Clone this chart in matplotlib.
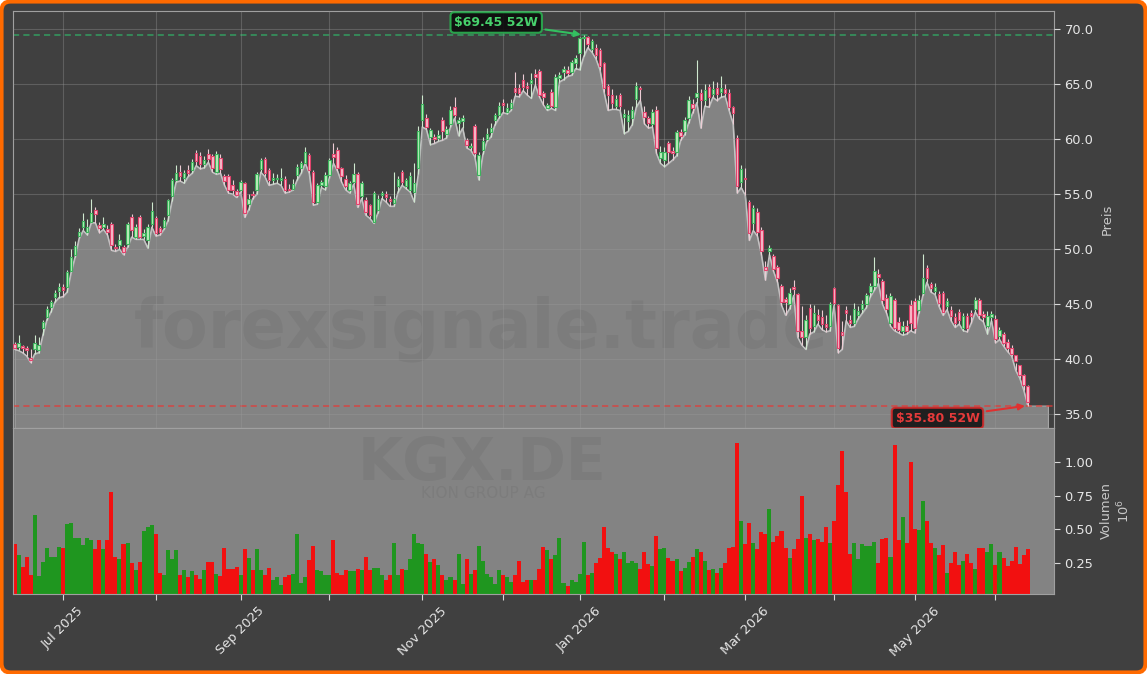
"""
KGX.DE (KION GROUP AG) - 52 week candlestick chart with volume panel.
"""
import matplotlib
matplotlib.use("Agg")
import matplotlib.pyplot as plt
import numpy as np
import pandas as pd
from matplotlib.patches import FancyBboxPatch

TICKER = "KGX.DE"
COMPANY = "KION GROUP AG"
WATERMARK = "forexsignale.trade"

# trading days (Xetra) from 2025-06-13 to 2026-06-11
START, END = "2025-06-13", "2026-06-11"
HOLIDAYS = ["2025-12-24", "2025-12-25", "2025-12-26", "2025-12-31",
            "2026-01-01", "2026-04-03", "2026-04-06", "2026-05-01"]

opens = [
    41.4, 41.1, 41.2, 41.0, 40.1, 40.9, 40.85, 42.8, 43.85, 44.75,
    45.65, 46.2, 46.6, 46.6, 48.0, 49.5, 51.2, 52.0, 51.6, 52.5,
    53.6, 52.2, 52.0, 51.8, 52.25, 50.2, 50.4, 50.2, 50.5, 52.9,
    51.1, 52.95, 51.2, 50.8, 52.3, 52.8, 51.9, 52.0, 53.1, 54.8,
    56.3, 57.0, 56.5, 57.2, 57.2, 58.7, 58.5, 57.7, 58.6, 58.45,
    57.0, 58.25, 56.6, 56.65, 55.8, 55.3, 55.4, 56.0, 54.1, 55.0,
    55.4, 57.3, 58.2, 57.2, 56.3, 56.4, 56.3, 56.4, 55.5, 55.5,
    56.7, 57.35, 57.8, 58.55, 57.05, 54.3, 55.8, 55.7, 56.75, 58.6,
    59.0, 57.35, 56.4, 55.4, 56.1, 56.8, 54.8, 54.5, 54.0, 52.5,
    53.55, 54.9, 55.0, 54.6, 54.2, 55.7, 57.0, 55.7, 55.4, 55.2,
    57.35, 61.7, 61.9, 60.2, 60.2, 60.1, 61.7, 60.5, 61.4, 62.9,
    61.5, 61.6, 59.9, 59.3, 61.2, 56.75, 59.0, 60.0, 60.6, 61.7,
    62.2, 63.3, 62.5, 62.8, 64.6, 64.6, 65.35, 64.8, 65.1, 65.9,
    66.2, 64.2, 62.8, 64.3, 62.9, 65.5, 66.1, 66.3, 66.1, 66.9,
    67.8, 69.2, 69.3, 68.2, 68.3, 68.1, 66.9, 64.8, 64.0, 63.0,
    64.0, 62.0, 61.6, 61.9, 63.6, 64.6, 62.5, 61.9, 61.4, 62.65,
    58.25, 58.1, 59.6, 58.9, 58.85, 60.6, 60.7, 61.9, 63.2, 63.8,
    64.15, 63.55, 64.7, 64.1, 64.6, 64.3, 64.5, 64.2, 62.9, 60.1,
    56.1, 56.5, 54.3, 52.35, 53.4, 51.75, 48.4, 49.8, 49.4, 48.4,
    46.65, 45.5, 45.0, 46.6, 45.9, 42.6, 42.0, 44.7, 43.0, 44.0,
    43.8, 43.2, 43.0, 46.5, 44.9, 42.5, 44.5, 43.6, 43.3, 44.0,
    44.6, 45.0, 46.1, 46.65, 47.7, 47.1, 45.6, 43.3, 45.4, 43.4,
    42.6, 43.0, 44.9, 45.3, 44.5, 46.0, 48.3, 46.8, 46.2, 45.9,
    46.0, 44.8, 44.5, 43.8, 44.3, 42.8, 43.9, 44.2, 44.6, 45.4,
    44.1, 43.0, 43.8, 43.7, 42.1, 42.3, 41.6, 41.0, 40.4, 39.5,
    38.6, 37.6,
]
highs = [
    41.6, 42.2, 41.3, 41.2, 40.9, 42.2, 42.0, 43.6, 44.8, 45.4,
    46.3, 46.9, 46.8, 48.1, 50.0, 50.7, 51.9, 53.3, 52.7, 54.6,
    53.8, 52.5, 52.9, 52.2, 52.5, 50.5, 51.4, 50.4, 52.5, 53.2,
    52.3, 53.1, 51.8, 52.3, 54.3, 53.0, 52.1, 52.9, 54.6, 56.5,
    57.6, 57.6, 57.2, 57.6, 58.2, 59.0, 58.8, 58.5, 59.1, 58.6,
    58.9, 58.6, 56.8, 56.8, 56.3, 55.5, 56.3, 56.1, 55.0, 55.3,
    57.0, 58.3, 58.4, 57.4, 56.9, 56.8, 57.4, 56.6, 55.9, 56.4,
    57.7, 58.0, 59.3, 58.7, 57.2, 56.0, 56.3, 57.0, 58.3, 59.6,
    59.3, 57.5, 56.7, 56.2, 57.8, 57.0, 56.2, 54.7, 54.1, 55.3,
    54.9, 55.3, 55.3, 54.8, 57.0, 56.6, 57.2, 56.5, 57.0, 57.8,
    61.2, 64.0, 62.3, 61.0, 60.5, 60.8, 62.0, 61.2, 63.0, 63.85,
    62.0, 62.2, 60.1, 59.6, 61.4, 58.8, 60.2, 61.0, 61.5, 62.4,
    63.4, 63.6, 63.3, 63.6, 66.1, 65.0, 65.9, 65.2, 66.0, 66.4,
    66.4, 64.4, 63.3, 64.5, 65.9, 66.1, 66.6, 66.6, 67.2, 67.6,
    69.3, 69.45, 69.4, 69.1, 68.6, 68.3, 67.0, 65.0, 64.5, 64.0,
    64.2, 62.7, 62.6, 63.0, 65.2, 64.8, 63.0, 62.1, 62.7, 63.0,
    59.4, 59.3, 59.8, 59.3, 60.8, 60.9, 62.0, 63.9, 63.6, 67.2,
    64.5, 65.0, 65.0, 65.3, 65.2, 65.7, 65.0, 64.5, 63.0, 60.4,
    57.6, 57.4, 54.5, 54.0, 53.7, 52.0, 48.9, 50.4, 49.6, 48.6,
    46.8, 45.7, 46.5, 47.2, 46.0, 44.8, 44.0, 45.0, 44.9, 44.6,
    44.5, 44.0, 45.2, 46.6, 45.0, 43.5, 44.8, 44.0, 45.1, 44.8,
    45.4, 46.0, 46.9, 49.3, 48.2, 47.3, 45.9, 46.0, 45.6, 43.8,
    43.5, 43.6, 45.4, 45.6, 45.8, 49.6, 48.6, 47.0, 46.9, 46.2,
    46.2, 45.6, 44.8, 44.2, 44.6, 44.2, 44.2, 44.5, 45.7, 45.6,
    44.4, 44.4, 44.4, 44.0, 42.9, 42.5, 41.8, 41.3, 39.7, 39.2,
    38.7, 37.7,
]
lows = [
    40.9, 40.8, 40.6, 40.3, 39.7, 40.5, 40.6, 42.2, 43.6, 44.3,
    45.2, 45.6, 45.7, 46.1, 47.9, 49.3, 51.0, 51.7, 51.3, 52.4,
    52.4, 51.5, 51.8, 51.3, 49.9, 49.8, 50.0, 49.5, 50.2, 51.1,
    50.9, 50.9, 50.9, 50.1, 52.0, 51.2, 51.3, 51.8, 52.6, 54.4,
    56.1, 56.2, 56.0, 56.6, 56.9, 57.6, 57.3, 57.4, 57.9, 57.0,
    56.8, 56.9, 55.8, 55.1, 55.0, 54.7, 55.2, 52.9, 53.6, 54.6,
    55.0, 57.0, 56.6, 55.8, 55.9, 56.0, 55.8, 55.1, 55.2, 55.4,
    56.3, 56.9, 57.8, 56.9, 54.0, 54.1, 55.6, 55.4, 56.5, 57.8,
    57.1, 56.1, 55.4, 55.1, 55.9, 53.8, 54.6, 53.1, 52.8, 52.35,
    53.3, 54.6, 54.3, 53.9, 53.9, 55.2, 55.8, 55.5, 55.2, 54.3,
    56.8, 61.1, 60.9, 59.5, 59.6, 59.8, 59.9, 60.1, 61.1, 61.9,
    60.3, 61.0, 59.2, 59.0, 58.4, 56.3, 58.6, 59.8, 60.2, 61.3,
    61.9, 62.4, 62.3, 62.6, 63.9, 63.85, 64.4, 64.0, 63.7, 64.9,
    63.85, 63.1, 62.6, 62.8, 62.6, 65.2, 65.4, 65.7, 65.8, 66.4,
    66.3, 67.5, 68.3, 67.9, 67.3, 66.3, 64.3, 62.6, 62.7, 62.7,
    62.6, 60.5, 60.7, 61.3, 62.9, 63.5, 61.4, 61.0, 61.1, 58.7,
    57.8, 57.5, 57.8, 58.1, 58.5, 59.9, 60.4, 61.5, 62.4, 63.3,
    61.0, 63.0, 62.9, 63.8, 63.5, 63.8, 63.9, 62.6, 61.4, 55.1,
    55.6, 54.9, 50.8, 51.7, 51.2, 49.5, 47.2, 49.5, 48.0, 47.0,
    44.9, 44.0, 44.6, 45.8, 42.0, 41.3, 40.9, 42.3, 42.5, 43.2,
    42.7, 42.5, 42.6, 44.9, 40.6, 40.9, 43.5, 42.9, 43.0, 43.7,
    44.2, 44.7, 45.7, 46.3, 46.9, 45.0, 44.2, 43.0, 42.6, 42.4,
    42.2, 42.3, 42.6, 42.4, 44.2, 45.8, 47.0, 46.1, 45.9, 44.8,
    44.0, 44.5, 43.5, 42.9, 43.2, 42.6, 42.5, 43.3, 44.3, 43.7,
    43.4, 42.3, 43.5, 41.5, 41.8, 41.2, 40.7, 40.3, 39.0, 38.3,
    37.2, 35.8,
]
closes = [
    41.0, 41.5, 41.0, 40.8, 39.95, 41.45, 41.3, 43.4, 44.55, 45.2,
    46.0, 46.6, 46.25, 47.9, 49.3, 50.3, 51.6, 52.6, 52.0, 53.3,
    53.2, 51.9, 52.3, 51.55, 50.4, 50.1, 50.8, 49.7, 52.3, 51.7,
    52.0, 51.1, 51.5, 52.0, 53.5, 51.45, 51.6, 52.65, 54.5, 56.3,
    56.9, 56.6, 56.9, 56.9, 57.9, 58.0, 57.7, 58.1, 58.2, 57.35,
    58.65, 57.25, 56.2, 55.4, 55.4, 54.9, 56.1, 53.25, 54.6, 54.9,
    56.8, 58.1, 56.9, 56.3, 56.5, 56.5, 56.5, 55.4, 55.4, 55.9,
    57.5, 57.85, 58.85, 57.2, 54.3, 55.8, 56.1, 56.75, 58.1, 58.4,
    57.35, 56.6, 55.7, 56.0, 56.8, 54.1, 56.0, 53.4, 53.1, 55.1,
    54.6, 55.1, 54.7, 54.4, 54.6, 56.4, 56.1, 56.3, 56.6, 56.0,
    60.7, 63.2, 61.1, 60.8, 60.0, 60.4, 60.7, 60.9, 62.65, 62.2,
    61.7, 61.9, 59.5, 59.4, 58.7, 58.55, 59.8, 60.5, 61.0, 62.2,
    63.0, 63.1, 62.8, 63.3, 64.3, 64.2, 64.7, 64.65, 65.4, 65.65,
    64.0, 63.85, 63.1, 63.0, 65.6, 65.8, 66.4, 66.0, 67.0, 67.4,
    69.15, 69.3, 68.6, 68.9, 67.6, 66.6, 64.6, 64.0, 63.25, 63.6,
    63.0, 62.3, 62.2, 62.65, 64.8, 64.5, 62.0, 61.5, 62.5, 59.2,
    58.85, 58.85, 58.85, 58.7, 60.6, 60.25, 61.75, 63.55, 62.8, 64.2,
    63.55, 64.45, 63.8, 64.5, 64.1, 64.6, 64.2, 62.9, 62.35, 55.7,
    57.25, 56.4, 51.45, 53.7, 51.6, 49.8, 48.1, 50.1, 48.2, 47.4,
    45.2, 45.2, 46.0, 46.35, 42.6, 42.0, 43.6, 42.8, 44.2, 43.6,
    43.2, 42.9, 45.0, 45.1, 41.0, 42.2, 44.2, 43.3, 44.6, 44.4,
    45.0, 45.8, 46.7, 48.0, 47.5, 45.4, 44.6, 45.75, 42.85, 42.7,
    43.0, 42.6, 43.3, 42.8, 45.4, 47.4, 47.4, 46.5, 46.6, 45.1,
    44.3, 45.3, 43.9, 43.3, 43.6, 43.9, 42.8, 43.9, 45.4, 44.0,
    43.8, 43.9, 44.1, 41.8, 42.7, 41.5, 41.0, 40.5, 39.8, 38.6,
    37.7, 36.1,
]
# volume in millions of shares
volumes = [
    0.39, 0.31, 0.225, 0.30, 0.16, 0.61, 0.155, 0.26, 0.36, 0.30,
    0.30, 0.37, 0.36, 0.54, 0.55, 0.435, 0.44, 0.385, 0.435, 0.42,
    0.355, 0.42, 0.355, 0.42, 0.774, 0.30, 0.28, 0.39, 0.40, 0.25,
    0.20, 0.26, 0.49, 0.52, 0.53, 0.47, 0.18, 0.16, 0.35, 0.28,
    0.35, 0.16, 0.20, 0.145, 0.19, 0.16, 0.135, 0.20, 0.26, 0.26,
    0.17, 0.155, 0.36, 0.21, 0.21, 0.225, 0.165, 0.355, 0.29, 0.20,
    0.355, 0.20, 0.165, 0.215, 0.13, 0.145, 0.09, 0.15, 0.165, 0.17,
    0.465, 0.105, 0.15, 0.275, 0.38, 0.20, 0.19, 0.16, 0.16, 0.42,
    0.18, 0.16, 0.20, 0.19, 0.19, 0.21, 0.20, 0.30, 0.20, 0.215,
    0.215, 0.16, 0.13, 0.165, 0.40, 0.16, 0.21, 0.20, 0.28, 0.465,
    0.40, 0.39, 0.32, 0.26, 0.28, 0.235, 0.16, 0.125, 0.145, 0.125,
    0.32, 0.095, 0.28, 0.17, 0.20, 0.38, 0.27, 0.17, 0.145, 0.095,
    0.20, 0.16, 0.145, 0.115, 0.165, 0.27, 0.115, 0.13, 0.125, 0.125,
    0.21, 0.37, 0.35, 0.28, 0.31, 0.44, 0.105, 0.08, 0.125, 0.115,
    0.17, 0.41, 0.165, 0.175, 0.25, 0.29, 0.52, 0.36, 0.33, 0.32,
    0.28, 0.335, 0.25, 0.27, 0.25, 0.21, 0.33, 0.245, 0.23, 0.455,
    0.355, 0.36, 0.29, 0.27, 0.28, 0.19, 0.215, 0.26, 0.30, 0.355,
    0.33, 0.27, 0.20, 0.21, 0.18, 0.215, 0.25, 0.36, 0.37, 1.136,
    0.56, 0.39, 0.545, 0.40, 0.355, 0.48, 0.47, 0.65, 0.41, 0.455,
    0.49, 0.365, 0.29, 0.355, 0.43, 0.745, 0.44, 0.465, 0.42, 0.43,
    0.41, 0.515, 0.40, 0.56, 0.83, 1.08, 0.78, 0.32, 0.40, 0.285,
    0.39, 0.38, 0.375, 0.41, 0.25, 0.43, 0.435, 0.30, 1.125, 0.42,
    0.59, 0.40, 1.00, 0.50, 0.495, 0.71, 0.56, 0.40, 0.365, 0.31,
    0.385, 0.175, 0.25, 0.335, 0.24, 0.27, 0.32, 0.25, 0.21, 0.365,
    0.365, 0.335, 0.39, 0.24, 0.33, 0.29, 0.23, 0.265, 0.37, 0.245,
    0.31, 0.355,
]

BG = "#404040"
PANEL = "#838383"
GRID = "#9a9a9a"
SPINE = "#a0a0a0"
TXT = "#e6e6e6"
LBL = "#c8c8c8"
FS = 9.4


def main():
    n = min(len(opens), len(highs), len(lows), len(closes), len(volumes))
    o = np.array(opens[:n])
    h = np.array(highs[:n])
    l = np.array(lows[:n])
    c = np.array(closes[:n])
    v = np.array(volumes[:n])
    x = np.arange(n)

    dates = pd.bdate_range(START, END)
    dates = dates[~dates.isin(pd.to_datetime(HOLIDAYS))][:n]

    hi_idx, lo_idx = int(np.argmax(h)), int(np.argmin(l))
    hi_val, lo_val = h[hi_idx], l[lo_idx]
    up = c >= o

    fig = plt.figure(figsize=(11.47, 6.74), dpi=100, facecolor="white")
    frame = FancyBboxPatch((0.0013, 0.0022), 0.9974, 0.9956,
                           boxstyle="round,pad=0,rounding_size=0.008",
                           mutation_aspect=1147 / 674,
                           transform=fig.transFigure, facecolor=BG,
                           edgecolor="#ff6a00", linewidth=3, zorder=-10)
    fig.add_artist(frame)

    ax = fig.add_axes([0.0109, 0.3650, 0.9080, 0.6187])
    axv = fig.add_axes([0.0109, 0.1187, 0.9080, 0.2463], sharex=ax)
    ax.set_facecolor(BG)
    axv.set_facecolor(PANEL)

    ax.set_xlim(-0.5, n + 5.5)
    ax.set_ylim(33.76, 71.63)
    ymin = ax.get_ylim()[0]

    # area under the daily lows
    ax.fill_between(np.append(x, n + 4), np.append(l, l[-1]), ymin,
                    facecolor=PANEL, edgecolor="#a8a8a8", linewidth=0.8, zorder=1)
    ax.plot(x, l, color="#c4c4c4", lw=1.0, zorder=2)

    # candles
    ax.vlines(x, l, h, colors=np.where(up, "#cfe8cf", "#ecccd4"),
              linewidth=0.8, zorder=3)
    body_lo = np.minimum(o, c)
    body_h = np.maximum(np.abs(c - o), 0.06)
    ax.bar(x, body_h, bottom=body_lo, width=0.62,
           color=np.where(up, "#bdeebd", "#f6bccb"),
           edgecolor=np.where(up, "#3cb35c", "#e2436c"),
           linewidth=0.8, zorder=4)

    # 52W high / low
    ax.axhline(hi_val, color="#2ecc71", lw=1.2, ls=(0, (3.7, 2.5)), alpha=0.6, zorder=2.5)
    ax.axhline(lo_val, color="#e53935", lw=1.2, ls=(0, (3.7, 2.5)), alpha=0.75, zorder=2.5)
    ax.annotate(f"${hi_val:.2f} 52W", xy=(hi_idx, hi_val), xytext=(-63, 9),
                textcoords="offset points", ha="center", va="center",
                color="#47d16c", fontsize=9, fontweight="bold", zorder=6,
                bbox=dict(boxstyle="round,pad=0.3", fc="#0b0b0b", ec="#2ab050", lw=1.5, alpha=0.9),
                arrowprops=dict(arrowstyle="-|>", color="#33c060", lw=1.5))
    ax.annotate(f"${lo_val:.2f} 52W", xy=(lo_idx, lo_val), xytext=(-65, -9),
                textcoords="offset points", ha="center", va="center",
                color="#e53a3a", fontsize=9, fontweight="bold", zorder=6,
                bbox=dict(boxstyle="round,pad=0.3", fc="#141414", ec="#d02828", lw=1.5, alpha=0.9),
                arrowprops=dict(arrowstyle="-|>", color="#e03030", lw=1.5))

    # watermarks
    ax.text(0.4198, 0.4837, WATERMARK, transform=fig.transFigure, ha="center",
            va="baseline", fontsize=48, fontweight="bold", color="#333333",
            alpha=0.085, zorder=1.5)
    axv.text(0.4202, 0.2875, TICKER, transform=fig.transFigure, ha="center",
             va="baseline", fontsize=42, fontweight="bold", color="#333333",
             alpha=0.085, zorder=1)
    axv.text(0.4211, 0.2605, COMPANY, transform=fig.transFigure, ha="center",
             va="baseline", fontsize=11, color="#333333", alpha=0.085, zorder=1)

    # volume
    axv.bar(x, v, width=1.0, color=np.where(up, "#1f961f", "#f21010"), zorder=2)
    axv.set_ylim(0.023, 1.25)

    # month ticks
    month_pos = [i for i in range(1, n) if dates[i].month != dates[i - 1].month]
    month_lbl = [dates[i].strftime("%b %Y") if dates[i].month % 2 == 1 else ""
                 for i in month_pos]
    ax.set_xticks(month_pos)
    axv.set_xticks(month_pos)
    axv.set_xticklabels(month_lbl, rotation=45, ha="center")

    ax.set_yticks(np.arange(35, 71, 5))
    ax.yaxis.set_major_formatter(matplotlib.ticker.FormatStrFormatter("%.1f"))
    axv.set_yticks([0.25, 0.5, 0.75, 1.0])
    axv.yaxis.set_major_formatter(matplotlib.ticker.FormatStrFormatter("%.2f"))

    for a in (ax, axv):
        a.yaxis.tick_right()
        a.yaxis.set_label_position("right")
        a.tick_params(colors="#d8d8d8", labelcolor=TXT, labelsize=FS, length=4)
        for sp in a.spines.values():
            sp.set_color(SPINE)
    ax.tick_params(axis="x", bottom=False, labelbottom=False)
    ax.grid(True, color=GRID, alpha=0.35, lw=0.8, zorder=0)
    ax.set_axisbelow(False)

    ax.set_ylabel("Preis", color=LBL, fontsize=FS, labelpad=5)
    axv.set_ylabel("Volumen\n$10^6$", color=LBL, fontsize=FS, labelpad=5)

    fig.savefig("out.png", dpi=100, facecolor=fig.get_facecolor())
    plt.close(fig)


if __name__ == "__main__":
    main()
